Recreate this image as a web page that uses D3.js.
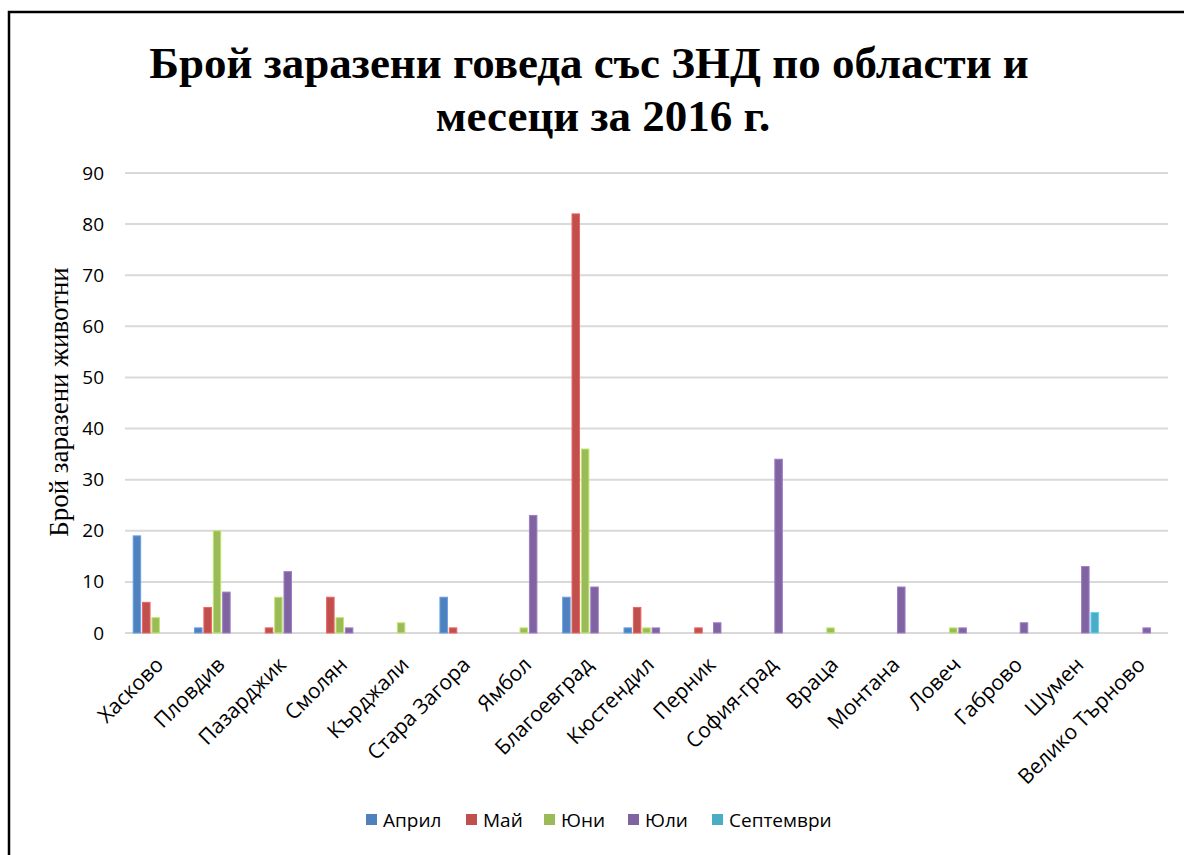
<!DOCTYPE html>
<html>
<head>
<meta charset="utf-8">
<script src="https://cdn.jsdelivr.net/npm/d3@7"></script>
<style>
  body { margin: 0; background: #fff; }
  svg { display: block; }
</style>
</head>
<body>
<div id="chart"></div>
<script>
// regions (x axis)
const regions = ["Хасково", "Пловдив", "Пазарджик", "Смолян", "Кърджали", "Стара Загора",
  "Ямбол", "Благоевград", "Кюстендил", "Перник", "София-град", "Враца", "Монтана",
  "Ловеч", "Габрово", "Шумен", "Велико Търново"];

const months = ["Април", "Май", "Юни", "Юли", "Септември"];

// values per month, in region order
const april     = [19, 1, 0, 0, 0, 7, 0, 7, 1, 0, 0, 0, 0, 0, 0, 0, 0];
const may       = [6, 5, 1, 7, 0, 1, 0, 82, 5, 1, 0, 0, 0, 0, 0, 0, 0];
const june      = [3, 20, 7, 3, 2, 0, 1, 36, 1, 0, 0, 1, 0, 1, 0, 0, 0];
const july      = [0, 8, 12, 1, 0, 0, 23, 9, 1, 2, 34, 0, 9, 1, 2, 13, 1];
const september = [0, 0, 0, 0, 0, 0, 0, 0, 0, 0, 0, 0, 0, 0, 0, 4, 0];

const yTicks = [0, 10, 20, 30, 40, 50, 60, 70, 80, 90];

const colors = ["#4F81BD", "#C0504D", "#9BBB59", "#8064A2", "#4BACC6"];

const seriesValues = [april, may, june, july, september];

const width = 1184, height = 855;
const plot = { left: 125, right: 1168, top: 173, bottom: 633 };

const svg = d3.select("#chart").append("svg")
  .attr("width", width)
  .attr("height", height);

// outer frame (runs off the picture at right and bottom)
svg.append("rect")
  .attr("x", 9).attr("y", 12)
  .attr("width", 1200).attr("height", 900)
  .attr("fill", "none")
  .attr("stroke", "#000")
  .attr("stroke-width", 2.5);

// title
const title = svg.append("text")
  .attr("text-anchor", "middle")
  .style("font-family", "'Liberation Serif', 'Times New Roman', serif")
  .style("font-weight", "bold")
  .style("font-size", "45px");
title.append("tspan").attr("x", 589).attr("y", 78).text("Брой заразени говеда със ЗНД по области и");
title.append("tspan").attr("x", 603).attr("y", 131).text("месеци за 2016 г.");

// scales
const x0 = d3.scaleBand()
  .domain(regions)
  .range([plot.left, plot.right]);

const x1 = d3.scaleBand()
  .domain(months)
  .range([0, 45])
  .paddingInner(0.2);

const y = d3.scaleLinear()
  .domain([0, 90])
  .range([plot.bottom, plot.top]);

// gridlines
svg.append("g")
  .selectAll("line")
  .data(yTicks)
  .enter()
  .append("line")
  .attr("x1", plot.left)
  .attr("x2", plot.right)
  .attr("y1", d => y(d))
  .attr("y2", d => y(d))
  .attr("stroke", "#d9d9d9")
  .attr("stroke-width", 2);

// y axis labels
const yAxis = d3.axisLeft(y).tickValues(yTicks).tickSize(0).tickPadding(0);
const yg = svg.append("g")
  .attr("transform", `translate(${plot.left - 21},0)`)
  .call(yAxis);
yg.select(".domain").remove();
yg.selectAll("text")
  .style("font-family", "'Open Sans', sans-serif")
  .style("font-size", "19px")
  .attr("fill", "#000");

// bars
const groupOffset = (x0.bandwidth() - 45) / 2;
const barData = [];
regions.forEach((r, i) => {
  months.forEach((m, j) => {
    const v = seriesValues[j][i];
    if (v > 0) barData.push({ region: r, month: m, value: v, color: colors[j] });
  });
});

svg.append("g")
  .selectAll("rect")
  .data(barData)
  .enter()
  .append("rect")
  .attr("x", d => x0(d.region) + groupOffset + x1(d.month))
  .attr("y", d => y(d.value))
  .attr("width", x1.bandwidth())
  .attr("height", d => y(0) - y(d.value))
  .attr("fill", d => d.color)
  .attr("stroke", d => d3.color(d.color).brighter(0.6))
  .attr("stroke-width", 1);

// x axis labels
const xAxis = d3.axisBottom(x0).tickSize(0).tickPadding(0);
const xg = svg.append("g")
  .attr("transform", `translate(0,${plot.bottom})`)
  .call(xAxis);
xg.select(".domain").remove();
xg.selectAll("text")
  .attr("y", 0)
  .attr("dy", 0)
  .attr("text-anchor", "end")
  .attr("transform", "translate(9,33) rotate(-45)")
  .style("font-family", "'Open Sans', sans-serif")
  .style("font-size", "21px")
  .attr("fill", "#000");

// y axis title
svg.append("text")
  .attr("transform", `translate(68,402) rotate(-90)`)
  .attr("text-anchor", "middle")
  .style("font-family", "'Liberation Serif', 'Times New Roman', serif")
  .style("font-size", "27px")
  .text("Брой заразени животни");

// legend
const legendX = [366, 466, 544, 628, 712];
const legend = svg.append("g");
const items = legend.selectAll("g")
  .data(months)
  .enter()
  .append("g")
  .attr("transform", (d, i) => `translate(${legendX[i]},820)`);
items.append("rect")
  .attr("x", 0).attr("y", -6)
  .attr("width", 11).attr("height", 11)
  .attr("fill", (d, i) => colors[i]);
items.append("text")
  .attr("x", 17)
  .attr("y", 7)
  .style("font-family", "'Open Sans', sans-serif")
  .style("font-size", "19px")
  .text(d => d);
</script>
</body>
</html>
